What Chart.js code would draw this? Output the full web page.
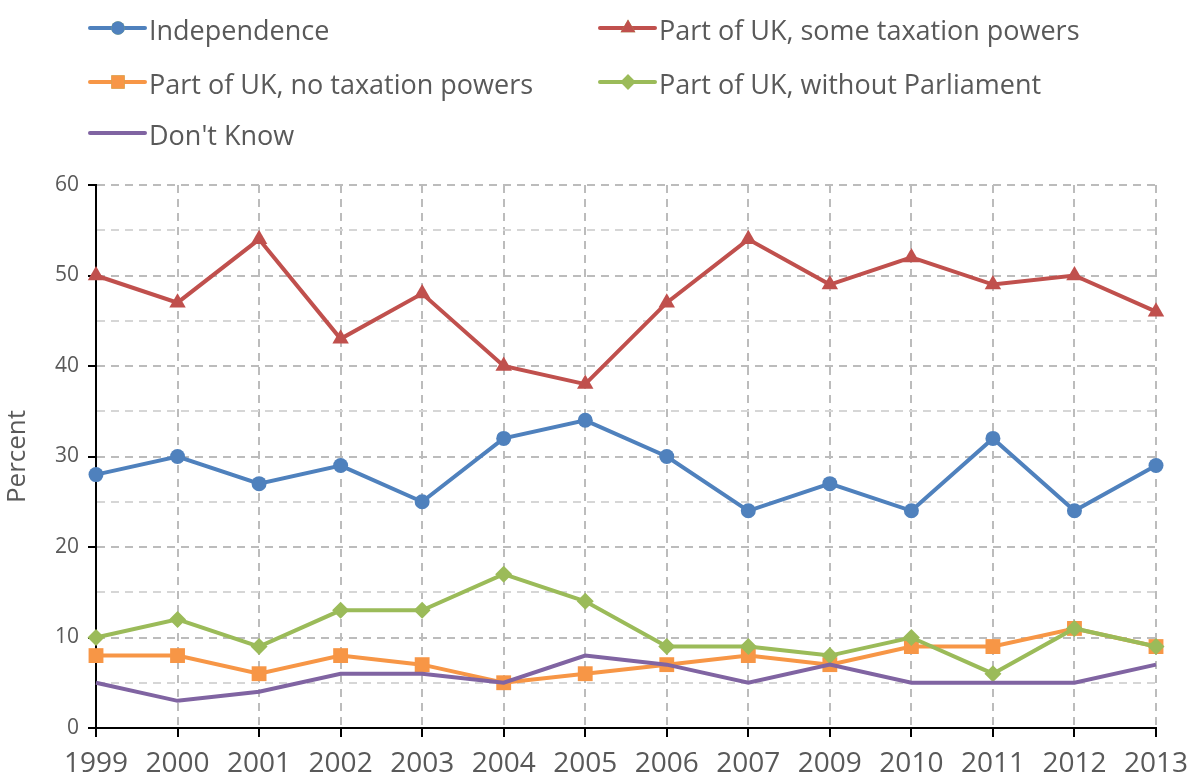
<!DOCTYPE html>
<html>
<head>
<meta charset="utf-8">
<title>Constitutional preference</title>
<script src="https://cdn.jsdelivr.net/npm/chart.js@4/dist/chart.umd.min.js"></script>
<style>
  html, body { margin: 0; padding: 0; background: #fff; }
  #wrap { position: relative; width: 1189px; height: 778px; }
</style>
</head>
<body>
<div id="wrap"><canvas id="prefChart" width="1189" height="778"></canvas></div>
<script>
// Survey years (2008 not asked)
const years = ['1999', '2000', '2001', '2002', '2003', '2004', '2005', '2006', '2007', '2009', '2010', '2011', '2012', '2013'];

// Percent of respondents per option
const independence = [28, 30, 27, 29, 25, 32, 34, 30, 24, 27, 24, 32, 24, 29];
const someTaxPowers = [50, 47, 54, 43, 48, 40, 38, 47, 54, 49, 52, 49, 50, 46];
const noTaxPowers = [8, 8, 6, 8, 7, 5, 6, 7, 8, 7, 9, 9, 11, 9];
const withoutParliament = [10, 12, 9, 13, 13, 17, 14, 9, 9, 8, 10, 6, 11, 9];
const dontKnow = [5, 3, 4, 6, 6, 5, 8, 7, 5, 7, 5, 5, 5, 7];

const FONT = '"Open Sans", sans-serif';
const TEXT = '#595959';

const series = [
    { label: 'Independence', data: independence, color: '#4F81BD', pointStyle: 'circle', radius: 7.5 },
    { label: 'Part of UK, some taxation powers', data: someTaxPowers, color: '#C0504D', pointStyle: 'triangle', radius: 9.5 },
    { label: 'Part of UK, no taxation powers', data: noTaxPowers, color: '#F79646', pointStyle: 'rect', radius: 10.5 },
    { label: 'Part of UK, without Parliament', data: withoutParliament, color: '#9BBB59', pointStyle: 'rectRot', radius: 8.5 },
    { label: "Don't Know", data: dontKnow, color: '#8064A2', pointStyle: false, radius: 0 }
];

// Two-column legend with line + marker samples
const columnLegend = {
    id: 'columnLegend',
    afterDraw(chart) {
        const c = chart.ctx;
        const cols = [90, 600];
        const rows = [28, 82, 133];
        chart.data.datasets.forEach((ds, i) => {
            const x = cols[i % 2];
            const y = rows[Math.floor(i / 2)];
            c.save();
            c.strokeStyle = ds.borderColor;
            c.lineWidth = 4;
            c.lineCap = 'round';
            c.beginPath();
            c.moveTo(x, y);
            c.lineTo(x + 55, y);
            c.stroke();
            if (ds.pointStyle) {
                Chart.helpers.drawPoint(c, {
                    pointStyle: ds.pointStyle,
                    radius: ds.pointRadius * 0.9,
                    borderWidth: 0
                }, x + 28, y);
                c.fillStyle = ds.borderColor;
                c.fill();
            }
            c.fillStyle = TEXT;
            c.font = '27px ' + FONT;
            c.textBaseline = 'alphabetic';
            c.fillText(ds.label, x + 59, y + 12);
            c.restore();
        });
    }
};

const ctx = document.getElementById('prefChart').getContext('2d');

new Chart(ctx, {
    type: 'line',
    data: {
        labels: years,
        datasets: series.map((s, i) => ({
            label: s.label,
            data: s.data,
            borderColor: s.color,
            backgroundColor: s.color,
            borderWidth: 4,
            pointStyle: s.pointStyle,
            pointRadius: s.radius,
            pointHoverRadius: s.radius,
            pointBorderWidth: 0,
            tension: 0,
            clip: false,
            order: series.length - i
        }))
    },
    options: {
        responsive: false,
        animation: false,
        layout: { padding: { top: 185, right: 33, left: 0, bottom: 0 } },
        plugins: {
            legend: { display: false },
            tooltip: { enabled: false }
        },
        scales: {
            x: {
                afterFit(scale) {
                    scale.height = 50;
                    // end labels may overhang the plot edges
                    scale.paddingLeft = 0;
                    scale.paddingRight = 0;
                },
                grid: {
                    color: '#bcbcbc',
                    lineWidth: 2,
                    tickColor: '#000',
                    tickWidth: 2,
                    tickLength: 9
                },
                border: { color: '#000', width: 2, dash: [8, 6] },
                ticks: {
                    color: TEXT,
                    font: { family: FONT, size: 28 },
                    padding: 10,
                    maxRotation: 0,
                    autoSkip: false
                }
            },
            y: {
                min: 0,
                max: 60,
                afterFit(scale) { scale.width = 96; },
                grid: {
                    color: (c) => (c.tick && c.tick.value % 10 === 0) ? '#bcbcbc' : '#d6d6d6',
                    lineWidth: 2,
                    tickColor: (c) => (c.tick && c.tick.value % 10 === 0) ? '#000' : 'rgba(0,0,0,0)',
                    tickWidth: 2,
                    tickLength: 8
                },
                border: { color: '#000', width: 2, dash: [8, 6] },
                ticks: {
                    stepSize: 5,
                    color: TEXT,
                    font: { family: FONT, size: 21 },
                    padding: 9,
                    autoSkip: false,
                    callback: (v) => v % 10 === 0 ? v : ''
                },
                title: {
                    display: true,
                    text: 'Percent',
                    color: TEXT,
                    font: { family: FONT, size: 26 },
                    padding: { top: 2, bottom: 0 }
                }
            }
        }
    },
    plugins: [columnLegend]
});
</script>
</body>
</html>
